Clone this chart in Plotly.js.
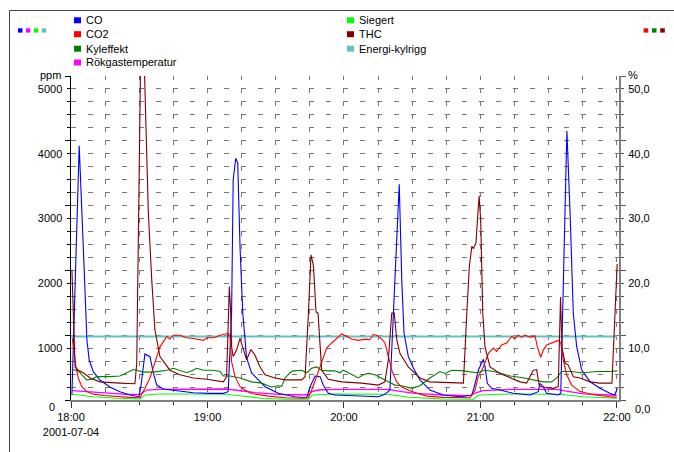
<!DOCTYPE html>
<html><head><meta charset="utf-8">
<script src="https://cdn.plot.ly/plotly-3.0.1.min.js"></script>
<style>html,body{margin:0;padding:0;background:#fff}#chart{width:674px;height:452px}</style>
</head><body><div id="chart"></div>
<script>
// ---- data (x = minutes after 18:00 on 2001-07-04) ----
const coMin = [0.4,3.6,5.4,6.2,7.0,8.0,9.8,12.7,17.1,21.5,25.9,29.9,30.8,32.5,34.7,36.2,37.7,40.6,46.5,53.8,61.1,67.0,69.1,70.6,71.3,72.4,73.3,74.3,75.5,77.2,79.4,80.9,83.1,85.3,91.1,98.5,103.6,105.1,107.3,109.5,110.9,113.1,116.1,123.4,130.7,135.1,138.0,140.2,144.3,145.4,146.4,148.3,150.5,153.4,157.8,163.7,171.0,176.2,176.9,179.1,181.3,182.0,183.0,184.9,188.6,194.4,201.8,205.4,206.2,207.6,209.1,214.2,215.3,215.7,216.7,218.0,219.4,220.8,222.3,224.5,228.2,232.5,236.9,239.1,240.1];
const coPpm = [77,3924,2365,1466,926,617,437,309,201,128,77,51,231,710,668,417,231,170,144,113,103,103,128,1342,3395,3730,3657,2365,1342,648,417,360,282,205,103,51,35,205,370,360,231,103,77,66,66,51,88,154,3328,1852,1034,668,494,309,154,77,51,77,154,463,628,514,258,181,154,103,77,128,258,205,103,77,103,772,2365,4151,2881,1342,822,463,282,181,103,77,181];

const co2Min = [0.6,1.3,2.2,3.2,4.7,6.9,9.8,14.2,20.1,25.9,30.3,31.1,32.5,34.7,36.2,37.7,39.1,40.6,42.1,43.5,45.0,47.9,50.9,53.8,56.7,58.2,59.7,62.6,65.5,67.7,69.1,69.9,70.6,72.1,74.3,76.5,79.4,86.7,94.1,101.4,104.3,105.8,108.0,110.2,112.4,114.6,117.5,119.0,121.2,123.4,126.3,129.2,131.4,132.9,134.4,136.6,138.0,139.5,141.0,143.2,145.4,149.8,156.4,163.7,175.4,177.6,179.0,181.3,183.5,185.7,187.1,189.3,191.5,193.7,195.2,196.6,198.1,199.6,201.8,204.0,205.0,206.5,207.6,209.1,211.3,214.2,215.3,216.4,217.9,220.1,223.8,229.6,236.9,239.9];
const co2Pct = [9.5,7.7,5.1,3.4,2.1,1.3,0.9,0.7,0.5,0.4,0.35,0.8,1.8,3.4,4.9,6.7,8.2,9.0,9.8,9.4,10.0,10.0,9.6,9.5,9.3,9.2,9.6,9.6,10.0,10.2,10.3,9.8,5.9,3.6,2.1,1.5,1.0,0.6,0.35,0.26,0.35,1.5,3.6,5.7,8.0,8.8,9.8,10.2,9.8,9.4,9.2,9.4,9.3,10.1,10.0,9.4,8.8,6.7,4.6,2.8,2.0,1.3,0.6,0.4,0.35,1.5,3.6,5.1,7.2,8.0,7.5,8.5,8.8,9.8,9.5,10.0,9.7,10.0,9.7,9.9,8.2,6.6,7.7,8.5,8.8,9.2,8.8,6.2,3.9,2.3,1.3,0.8,0.5,0.4];

const kyMin = [0.6,3.2,4.7,6.9,9.1,11.3,17.1,21.5,24.5,27.4,28.9,31.8,36.2,42.1,45.0,47.9,50.9,53.1,55.3,58.2,62.6,65.5,67.0,69.9,74.3,79.4,83.8,86.7,88.2,91.1,92.6,94.1,96.3,97.7,101.4,103.6,105.8,108.0,110.2,113.1,116.1,118.3,119.7,122.6,126.3,128.5,130.7,133.6,136.6,139.5,142.4,145.4,149.8,153.4,157.8,162.2,164.4,167.4,172.5,175.4,178.3,182.0,185.7,190.1,193.0,197.4,201.8,207.6,211.3,213.5,215.7,219.4,225.2,231.1,236.9,240.1];
const kyPct = [4.7,4.5,3.9,3.1,3.2,3.6,3.6,3.7,4.2,4.7,4.6,4.3,4.3,4.6,4.9,4.6,4.2,4.5,4.9,4.6,4.6,4.4,3.7,3.7,3.4,2.8,2.6,2.2,2.0,2.2,2.1,3.4,4.2,4.5,4.6,4.2,4.9,5.1,4.6,4.5,4.5,4.2,4.6,4.1,3.4,3.9,4.1,3.9,3.4,2.8,2.3,2.2,1.8,2.2,3.4,4.4,4.1,4.6,4.5,4.4,4.2,4.6,4.4,4.0,3.7,3.5,3.2,2.8,2.8,3.4,4.4,4.4,4.2,4.4,4.4,4.5];

const rgMin = [0.6,9.8,17.1,24.5,30.3,31.8,33.3,39.1,53.8,68.4,72.1,80.9,91.1,104.3,105.8,108.7,116.1,130.7,139.5,145.4,151.2,163.7,175.4,178.3,181.3,193.0,213.5,216.4,225.2,239.9];
const rgPpm = [144,119,103,88,88,128,154,165,165,170,154,113,88,77,128,154,165,165,165,128,103,77,66,113,144,165,165,144,93,73];

const sgMin = [0.6,9.8,20.1,30.3,32.5,39.1,53.8,68.4,74.3,83.8,94.1,104.3,106.1,116.1,139.5,148.3,163.7,176.9,179.1,193.0,215.0,225.2,239.9];
const sgPpm = [88,51,26,15,77,93,93,88,66,26,11,11,77,93,88,42,15,11,77,93,88,51,26];

const thcMin = [0.4,1.0,1.8,3.2,5.4,8.4,12.7,21.5,28.1,28.9,31.0,32.4,33.3,34.0,35.5,36.9,39.1,43.5,47.9,53.8,59.7,67.0,68.4,69.6,70.2,70.6,71.3,72.8,74.3,75.7,77.2,79.1,80.9,83.1,85.3,89.7,94.1,101.4,102.9,104.3,105.5,106.6,107.7,108.6,110.2,113.1,119.0,127.8,135.1,138.0,139.5,141.0,142.1,143.2,144.6,148.3,151.2,153.4,157.8,163.7,172.5,174.0,175.1,176.2,176.9,178.0,179.4,180.1,181.0,182.0,184.2,188.6,193.0,197.4,200.3,203.2,204.7,205.9,207.6,212.0,214.2,215.2,215.8,217.2,218.6,220.8,223.8,228.2,232.5,237.8,240.1];
const thcPct = [20.1,13.4,5.1,4.6,4.2,3.4,2.8,2.6,2.5,5.7,63.3,49.4,39.1,28.9,18.5,10.8,6.7,4.6,3.9,3.4,3.2,2.8,3.6,17.5,13.4,8.2,6.7,7.7,9.5,7.7,6.2,7.8,6.9,5.1,3.9,3.4,3.1,3.1,3.6,12.9,22.4,20.7,13.6,13.4,4.6,3.2,2.8,2.6,2.3,2.8,6.2,13.4,13.4,9.3,7.2,5.1,4.1,3.4,2.8,2.7,2.6,13.4,20.6,23.7,23.4,24.2,31.5,27.8,13.4,8.2,5.1,4.1,3.4,2.8,2.6,4.6,4.7,2.1,2.0,1.8,2.1,15.9,8.2,5.7,5.4,3.6,3.4,2.8,2.6,2.6,21.0];

const ekMin = [0,60,120,180,240];
const ekPpm = [980,980,980,980,980];

const xTickVals = [0,60,120,180,240];
const xTickText = ['18:00<br>2001-07-04','19:00','20:00','21:00','22:00'];
const yTickVals = [0,1000,2000,3000,4000,5000];
const yTickText = ['0','1000','2000','3000','4000','5000'];
const y2TickVals = [0,10,20,30,40,50];
const y2TickText = ['0,0','10,0','20,0','30,0','40,0','50,0'];

const legendLeft = ['CO','CO2','Kyleffekt','Rökgastemperatur'];
const legendLeftColors = ['#0000FF','#FF0000','#008000','#FF00FF'];
const legendRight = ['Siegert','THC','Energi-kylrigg'];
const legendRightColors = ['#00FF00','#800000','#66C2C2'];

// ---- figure ----
const L = 71, R = 619, T = 76, B = 400;
const PX = x => (x - L) / (R - L);
const PY = y => (B - y) / (B - T);

function line(x, y, color, axis, w) {
  return {x: x, y: y, type: 'scatter', mode: 'lines', yaxis: axis,
          line: {color: color, width: w || 1.1}, hoverinfo: 'skip', cliponaxis: true};
}
const traces = [
  line(ekMin, ekPpm, '#66C2C2', 'y', 2),
  line(sgMin, sgPpm, '#00FF00', 'y'),
  line(rgMin, rgPpm, '#FF00FF', 'y', 1.3),
  line(kyMin, kyPct, '#008000', 'y2'),
  line(co2Min, co2Pct, '#FF0000', 'y2'),
  line(thcMin, thcPct, '#800000', 'y2'),
  line(coMin, coPpm, '#0000FF', 'y'),
];

const shapes = [];
const annotations = [];
// outer frame
shapes.push({type:'line', xref:'paper', yref:'paper', x0:PX(9.5), x1:PX(9.5), y0:PY(460), y1:PY(10.5), line:{color:'#444', width:1}});
shapes.push({type:'line', xref:'paper', yref:'paper', x0:PX(9.5), x1:PX(680), y0:PY(10.5), y1:PY(10.5), line:{color:'#444', width:1}});

function sq(x0, y0, x1, y1, c) {
  shapes.push({type:'rect', xref:'paper', yref:'paper', x0:PX(x0), x1:PX(x1), y0:PY(y0), y1:PY(y1), fillcolor:c, line:{width:0}});
}
function txt(x, y, t, anchor) {
  annotations.push({xref:'paper', yref:'paper', x:PX(x), y:PY(y), text:t, showarrow:false,
    xanchor:anchor || 'left', yanchor:'middle', font:{size:11, color:'#000'}});
}
const rowY = [20.3, 34.2, 48.7, 62.5];
legendLeft.forEach((t, i) => { sq(74, rowY[i]-3, 81, rowY[i]+3, legendLeftColors[i]); txt(83.5, rowY[i], t); });
legendRight.forEach((t, i) => { sq(347, rowY[i]-3, 354, rowY[i]+3, legendRightColors[i]); txt(356.5, rowY[i], t); });
// small axis-assignment squares
['#0000FF','#FF00FF','#00FF00','#66C2C2'].forEach((c, i) => sq(18 + i*7.9, 28.3, 22.5 + i*7.9, 32.6, c));
['#FF0000','#008000','#800000'].forEach((c, i) => sq(643.6 + i*8.3, 28.3, 648.2 + i*8.3, 32.6, c));
// axis unit labels
txt(63, 75, 'ppm', 'right');
txt(626, 75, '%', 'left');
// zero labels placed beside the corner time labels
txt(56.5, 407, yTickText[0], 'right');
txt(633, 409, y2TickText[0], 'left');

const layout = {
  width: 674, height: 452,
  margin: {l: L, r: 674 - R, t: T, b: 452 - B, pad: 0},
  paper_bgcolor: '#ffffff', plot_bgcolor: 'rgba(0,0,0,0)',
  font: {family: '"Liberation Sans", Arial, sans-serif', size: 11, color: '#000'},
  showlegend: false,
  xaxis: {range: [0, 240.9], tickmode: 'array', tickvals: xTickVals, ticktext: xTickText,
    ticks: 'outside', ticklen: 6, tickcolor: '#333', tickwidth: 1,
    showline: true, linecolor: '#808080', linewidth: 2,
    showgrid: true, gridcolor: '#777777', griddash: '4px,9px', gridwidth: 1,
    minor: {tickmode: 'linear', tick0: 0, dtick: 15, ticks: 'outside', ticklen: 3, tickcolor: '#333',
            showgrid: true, gridcolor: '#777777', griddash: '4px,9px', gridwidth: 1},
    zeroline: false, fixedrange: true},
  yaxis: {range: [0, 5000], tickmode: 'array', tickvals: yTickVals, ticktext: [''].concat(yTickText.slice(1)),
    ticks: 'outside', ticklen: 5, tickcolor: '#000', tickwidth: 1,
    showline: true, linecolor: '#000', linewidth: 1.5, ticklabelshift: 13,
    showgrid: true, gridcolor: '#777777', griddash: '5px,12px', gridwidth: 1,
    minor: {tickmode: 'linear', tick0: 0, dtick: 200, ticks: 'outside', ticklen: 3, tickcolor: '#000',
            showgrid: true, gridcolor: '#777777', griddash: '5px,12px', gridwidth: 1},
    zeroline: false, fixedrange: true},
  yaxis2: {range: [0, 50], overlaying: 'y', side: 'right', tickmode: 'array', tickvals: y2TickVals, ticktext: [''].concat(y2TickText.slice(1)),
    ticks: 'outside', ticklen: 5, tickcolor: '#555', tickwidth: 1,
    showline: true, linecolor: '#808080', linewidth: 2, ticklabelshift: 13,
    showgrid: false,
    minor: {tickmode: 'linear', tick0: 0, dtick: 2, ticks: 'outside', ticklen: 3, tickcolor: '#555', showgrid: false},
    zeroline: false, fixedrange: true},
  shapes: shapes,
  annotations: annotations,
};
Plotly.newPlot('chart', traces, layout, {staticPlot: true, displayModeBar: false});
</script>
</body></html>
